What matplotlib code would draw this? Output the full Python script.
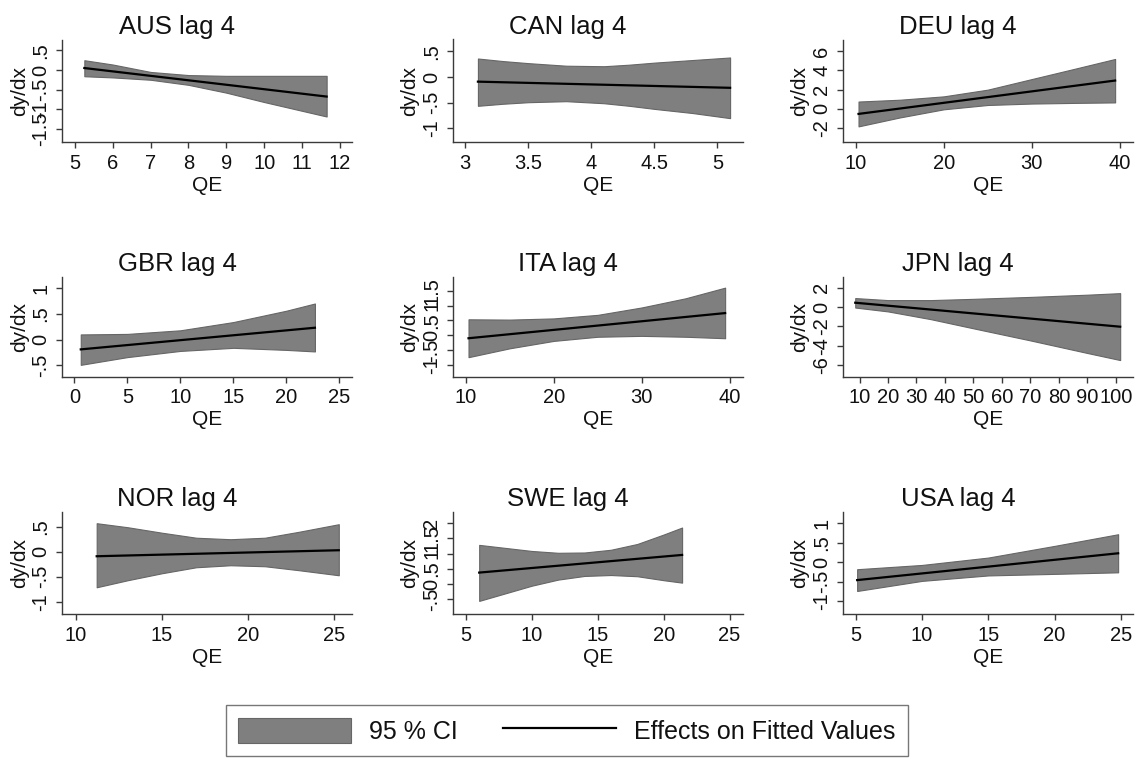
import matplotlib
matplotlib.use('Agg')
import matplotlib.pyplot as plt
from matplotlib.patches import Patch
from matplotlib.lines import Line2D

plt.rcParams['font.family'] = ['Liberation Sans', 'DejaVu Sans']

# --- data (marginal effect of QE, lag 4) ---
countries = ['AUS', 'CAN', 'DEU', 'GBR', 'ITA', 'JPN', 'NOR', 'SWE', 'USA']

aus_qe = [5.25, 6, 7, 8, 9, 10, 11.65]
aus_upper = [0.25, 0.14, -0.05, -0.13, -0.15, -0.15, -0.15]
aus_lower = [-0.16, -0.19, -0.25, -0.38, -0.58, -0.82, -1.19]
aus_fit = [0.05, -0.68]

can_qe = [3.1, 3.3, 3.5, 3.8, 4.1, 4.3, 4.5, 4.8, 5.1]
can_upper = [0.36, 0.31, 0.27, 0.22, 0.21, 0.24, 0.28, 0.33, 0.38]
can_lower = [-0.56, -0.52, -0.49, -0.47, -0.51, -0.56, -0.62, -0.70, -0.80]
can_fit = [-0.09, -0.21]

deu_qe = [10.3, 15, 20, 25, 30, 35, 39.5]
deu_upper = [0.76, 0.95, 1.3, 2.0, 3.1, 4.2, 5.2]
deu_lower = [-1.83, -0.9, -0.05, 0.4, 0.55, 0.62, 0.67]
deu_fit = [-0.53, 2.95]

gbr_qe = [0.6, 5, 10, 15, 20, 22.7]
gbr_upper = [0.10, 0.11, 0.18, 0.34, 0.56, 0.70]
gbr_lower = [-0.49, -0.34, -0.22, -0.16, -0.20, -0.23]
gbr_fit = [-0.19, 0.23]

ita_qe = [10.3, 15, 20, 25, 30, 35, 39.5]
ita_upper = [0.54, 0.53, 0.57, 0.69, 0.94, 1.25, 1.61]
ita_lower = [-0.74, -0.44, -0.19, -0.05, -0.02, -0.05, -0.10]
ita_fit = [-0.10, 0.75]

jpn_qe = [8.5, 20, 35, 50, 70, 90, 101.5]
jpn_upper = [0.93, 0.72, 0.72, 0.85, 1.05, 1.28, 1.44]
jpn_lower = [-0.05, -0.45, -1.25, -2.2, -3.45, -4.75, -5.48]
jpn_fit = [0.45, -2.03]

nor_qe = [11.2, 13, 15, 17, 19, 21, 23, 25.3]
nor_upper = [0.57, 0.49, 0.38, 0.28, 0.25, 0.28, 0.40, 0.55]
nor_lower = [-0.71, -0.57, -0.43, -0.31, -0.27, -0.29, -0.37, -0.47]
nor_fit = [-0.09, 0.03]

swe_qe = [6, 8, 10, 12, 14, 16, 18, 20, 21.4]
swe_upper = [1.29, 1.19, 1.09, 1.03, 1.04, 1.13, 1.32, 1.63, 1.86]
swe_lower = [-0.55, -0.30, -0.05, 0.15, 0.27, 0.30, 0.26, 0.13, 0.05]
swe_fit = [0.38, 0.96]

usa_qe = [5.1, 10, 15, 20, 24.8]
usa_upper = [-0.18, -0.07, 0.12, 0.42, 0.72]
usa_lower = [-0.74, -0.48, -0.34, -0.30, -0.26]
usa_fit = [-0.46, 0.23]

# axis ticks as printed on the reference
xticks = {
    'AUS': [5, 6, 7, 8, 9, 10, 11, 12],
    'CAN': [3, 3.5, 4, 4.5, 5],
    'DEU': [10, 20, 30, 40],
    'GBR': [0, 5, 10, 15, 20, 25],
    'ITA': [10, 20, 30, 40],
    'JPN': [10, 20, 30, 40, 50, 60, 70, 80, 90, 100],
    'NOR': [10, 15, 20, 25],
    'SWE': [5, 10, 15, 20, 25],
    'USA': [5, 10, 15, 20, 25],
}
yticks = {
    'AUS': [-1.5, -1, -0.5, 0, 0.5],
    'CAN': [-1, -0.5, 0, 0.5],
    'DEU': [-2, 0, 2, 4, 6],
    'GBR': [-0.5, 0, 0.5, 1],
    'ITA': [-1, -0.5, 0, 0.5, 1, 1.5],
    'JPN': [-6, -4, -2, 0, 2],
    'NOR': [-1, -0.5, 0, 0.5],
    'SWE': [-0.5, 0, 0.5, 1, 1.5, 2],
    'USA': [-1, -0.5, 0, 0.5, 1],
}

series = {
    'AUS': (aus_qe, aus_upper, aus_lower, aus_fit),
    'CAN': (can_qe, can_upper, can_lower, can_fit),
    'DEU': (deu_qe, deu_upper, deu_lower, deu_fit),
    'GBR': (gbr_qe, gbr_upper, gbr_lower, gbr_fit),
    'ITA': (ita_qe, ita_upper, ita_lower, ita_fit),
    'JPN': (jpn_qe, jpn_upper, jpn_lower, jpn_fit),
    'NOR': (nor_qe, nor_upper, nor_lower, nor_fit),
    'SWE': (swe_qe, swe_upper, swe_lower, swe_fit),
    'USA': (usa_qe, usa_upper, usa_lower, usa_fit),
}

# plot-region extents (layout)
xlims = {'AUS': (4.66, 12.32), 'CAN': (2.90, 5.20), 'DEU': (8.5, 41.5),
         'GBR': (-1.17, 26.2), 'ITA': (8.5, 41.5), 'JPN': (4.1, 105.9),
         'NOR': (9.18, 26.07), 'SWE': (3.99, 26.0), 'USA': (4.01, 25.9)}
ylims = {'AUS': (-1.85, 0.78), 'CAN': (-1.27, 0.73), 'DEU': (-3.49, 7.23),
         'GBR': (-0.72, 1.22), 'ITA': (-1.40, 1.98), 'JPN': (-7.2, 3.14),
         'NOR': (-1.25, 0.80), 'SWE': (-0.99, 2.38), 'USA': (-1.34, 1.30)}


def stata_fmt(v):
    s = f"{v:g}"
    if s.startswith('0.'):
        s = s[1:]
    elif s.startswith('-0.'):
        s = '-' + s[2:]
    return s


W, H = 1138, 760
fig = plt.figure(figsize=(W / 100, H / 100), dpi=100)

col_left = [62, 452.7, 842.7]
row_top = [39.5, 276.7, 511.7]
row_bot = [142.3, 376.7, 614.3]
ax_w = 290

fill_col = '#7f7f7f'
edge_col = '#666666'
axis_col = '#3a3a3a'
txt_col = '#111111'

for i, c in enumerate(countries):
    r, k = divmod(i, 3)
    ax = fig.add_axes([col_left[k] / W, 1 - row_bot[r] / H, ax_w / W,
                       (row_bot[r] - row_top[r]) / H])
    qe, up, lo, fit = series[c]
    ax.fill_between(qe, lo, up, facecolor=fill_col, edgecolor=edge_col, lw=0.8)
    ax.plot([qe[0], qe[-1]], fit, color='black', lw=1.6)

    ax.set_xlim(xlims[c])
    ax.set_ylim(ylims[c])
    ax.set_xticks(xticks[c])
    ax.set_xticklabels([stata_fmt(v) for v in xticks[c]], fontsize=14.5)
    ax.set_yticks(yticks[c])
    ax.set_yticklabels([stata_fmt(v) for v in yticks[c]], fontsize=14.5,
                       rotation=90, va='center')
    for s in ['top', 'right']:
        ax.spines[s].set_visible(False)
    for s in ['left', 'bottom']:
        ax.spines[s].set_color(axis_col)
        ax.spines[s].set_linewidth(1.0)
    ax.tick_params(direction='out', length=4.3, width=1.0, color=axis_col,
                   labelcolor=txt_col, pad=4)
    ax.set_xlabel('QE', fontsize=15, labelpad=2, color=txt_col)
    ax.set_ylabel('dy/dx', fontsize=15, labelpad=2, color=txt_col)
    # Stata centres the subtitle over the whole subgraph, a bit left of the plot region
    ax.set_title(f'{c} lag 4', fontsize=18.5, pad=4, color=txt_col, x=0.397)

handles = [Patch(facecolor=fill_col, edgecolor=edge_col, lw=0.8),
           Line2D([], [], color='black', lw=1.6)]
leg = fig.legend(handles, ['95 % CI', 'Effects on Fitted Values'], ncol=2,
                 loc='upper center', bbox_to_anchor=(567 / W, 1 - 705 / H),
                 borderaxespad=0, fontsize=18, frameon=True, fancybox=False,
                 edgecolor='#555555', handlelength=4.5, handleheight=1.22,
                 handletextpad=0.75, columnspacing=1.8, borderpad=0.5)
leg.get_frame().set_linewidth(1.0)
for t in leg.get_texts():
    t.set_color(txt_col)

fig.savefig('out.png', dpi=100, facecolor='white')
